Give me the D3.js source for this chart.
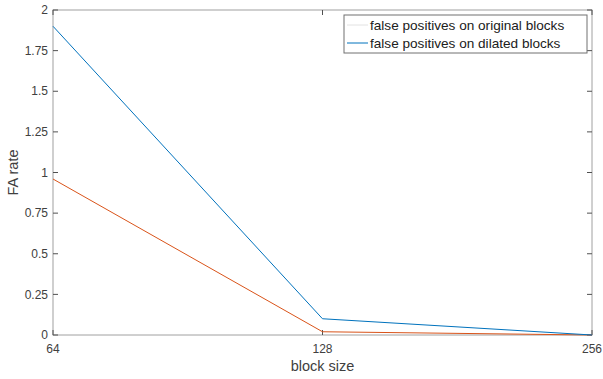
<!DOCTYPE html>
<html>
<head>
<meta charset="utf-8">
<script src="https://cdn.jsdelivr.net/npm/d3@7"></script>
<style>
  body { margin: 0; background: #fff; }
  text { font-family: "Liberation Sans", Arial, sans-serif; fill: #404040; }
</style>
</head>
<body>
<div id="graf"></div>
<script>
// datos
const tamBloque = ["64", "128", "256"]
const fpOriginal = [0.96, 0.02, 0.0]
const fpDilatado = [1.9, 0.1, 0.0]
const yTicks = [0, 0.25, 0.5, 0.75, 1, 1.25, 1.5, 1.75, 2]
const yTickLabels = ["0", "0.25", "0.5", "0.75", "1", "1.25", "1.5", "1.75", "2"]
const series = [
  { nombre: "false positives on original blocks", valores: fpOriginal, color: "#D95319", colorLeyenda: "#e2e2e2" },
  { nombre: "false positives on dilated blocks", valores: fpDilatado, color: "#0072BD", colorLeyenda: "#0072BD" },
]

const anchoTotal = 603
const altoTotal = 379
const margins = { top: 10, right: 11, bottom: 44, left: 53 }
const ancho = anchoTotal - margins.left - margins.right
const alto = altoTotal - margins.top - margins.bottom

const svg = d3.select("#graf")
  .append("svg")
  .attr("width", anchoTotal)
  .attr("height", altoTotal)

const g = svg.append("g")
  .attr("transform", `translate(${margins.left}, ${margins.top})`)

// Escaladores
const x = d3.scalePoint().domain(tamBloque).range([0, ancho])
const y = d3.scaleLinear().domain([0, 2]).range([alto, 0])

// Ejes (ticks hacia adentro, como matlab)
const ejeColor = "#a0a0a0"
const tickColor = "#505050"
const tl = 5

// caja
g.append("rect")
  .attr("width", ancho).attr("height", alto)
  .attr("fill", "none").attr("stroke", ejeColor).attr("stroke-width", 1)

// ticks y
yTicks.forEach((t, i) => {
  g.append("line").attr("x1", 0).attr("x2", tl).attr("y1", y(t)).attr("y2", y(t))
    .attr("stroke", tickColor)
  g.append("line").attr("x1", ancho - tl).attr("x2", ancho).attr("y1", y(t)).attr("y2", y(t))
    .attr("stroke", tickColor)
  g.append("text")
    .attr("x", -5).attr("y", y(t)).attr("dy", "0.35em")
    .attr("text-anchor", "end")
    .style("font-size", "12px")
    .text(yTickLabels[i])
})

// ticks x
tamBloque.forEach((t) => {
  g.append("line").attr("x1", x(t)).attr("x2", x(t)).attr("y1", alto).attr("y2", alto - tl)
    .attr("stroke", tickColor)
  g.append("line").attr("x1", x(t)).attr("x2", x(t)).attr("y1", 0).attr("y2", tl)
    .attr("stroke", tickColor)
  g.append("text")
    .attr("x", x(t)).attr("y", alto + 18)
    .attr("text-anchor", "middle")
    .style("font-size", "12px")
    .text(t)
})

// lineas
const linea = d3.line()
  .x((d, i) => x(tamBloque[i]))
  .y((d) => y(d))

series.forEach((s) => {
  g.append("path")
    .datum(s.valores)
    .attr("d", linea)
    .attr("fill", "none")
    .attr("stroke", s.color)
    .attr("stroke-width", 1)
})

// Títulos
g.append("text")
  .attr("x", ancho / 2).attr("y", alto + 36)
  .attr("text-anchor", "middle")
  .style("font-size", "14.5px")
  .text("block size")

g.append("text")
  .attr("transform", `translate(${-35}, ${alto / 2}) rotate(-90)`)
  .attr("text-anchor", "middle")
  .style("font-size", "14.5px")
  .text("FA rate")

// leyenda
const ley = svg.append("g").attr("transform", "translate(344, 15)")
ley.append("rect")
  .attr("width", 243).attr("height", 38)
  .attr("fill", "#fff").attr("stroke", "#707070").attr("stroke-width", 1)

series.forEach((s, i) => {
  const yy = 10 + i * 18
  ley.append("line")
    .attr("x1", 3).attr("x2", 24).attr("y1", yy).attr("y2", yy)
    .attr("stroke", s.colorLeyenda)
  ley.append("text")
    .attr("x", 26).attr("y", yy).attr("dy", "0.35em")
    .style("font-size", "13.6px")
    .style("fill", "#202020")
    .text(s.nombre)
})
</script>
</body>
</html>
